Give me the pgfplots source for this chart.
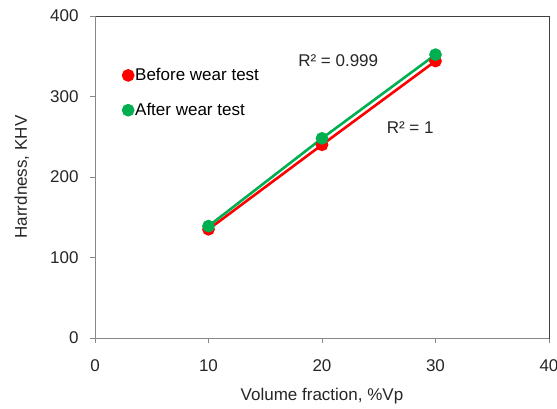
\documentclass[border=0pt]{standalone}
\usepackage{fontspec}
\setmainfont{Liberation Sans}
\usepackage{pgfplots}
\pgfplotsset{compat=1.18}
\definecolor{exred}{HTML}{FF0000}
\definecolor{exgreen}{HTML}{00B050}
\definecolor{axgray}{HTML}{888888}
\newcommand{\lblfont}{\fontsize{17}{19}\selectfont}

\begin{document}
\begin{tikzpicture}
\useasboundingbox (-95pt,-70pt) rectangle (462pt,338pt);
\begin{axis}[scale only axis,width=454pt,height=322pt,
  xmin=0,xmax=40,ymin=0,ymax=400,
  xtick={0,10,...,40},ytick={0,100,...,400},
  tick align=outside,tick pos=left,major tick length=5pt,
  tick style={axgray,line width=0.8pt},
  axis line style={black!75,line width=0.9pt},
  /pgf/number format/assume math mode=true,
  tick label style={font=\lblfont,text=black!85},
  label style={font=\lblfont,text=black!85},
  xticklabel style={yshift=-13pt},
  yticklabel style={xshift=-8pt},
  xlabel={Volume fraction, \%Vp},
  ylabel={Harrdness, KHV},
  xlabel style={at={(axis description cs:0.5,-0.18)},anchor=center},
  ylabel style={at={(axis description cs:-0.161,0.5)},anchor=center},
  legend style={at={(axis cs:2.2,340)},anchor=north west,draw=none,fill=none,
    font=\lblfont,row sep=17pt,
    /tikz/every even column/.append style={column sep=0pt}},
  legend cell align=left,
  legend image code/.code={\draw plot coordinates {(0.15cm,0cm)};},
]
\addplot[exred,line width=2.6pt,mark=*,mark size=5pt] coordinates {(10,135) (20,240) (30,344)};
\addlegendentry{Before wear test}
\addplot[exgreen,line width=2.6pt,mark=*,mark size=5pt] coordinates {(10,139) (20,248) (30,352)};
\addlegendentry{After wear test}
\draw[axgray,line width=0.9pt] (rel axis cs:0,1) -- (rel axis cs:0,0) -- (rel axis cs:1,0);
\node[anchor=west,font=\lblfont,text=black!85] at (axis cs:17.6,345) {R² = 0.999};
\node[anchor=west,font=\lblfont,text=black!85] at (axis cs:25.4,261) {R² = 1};
\end{axis}
\end{tikzpicture}
\end{document}
